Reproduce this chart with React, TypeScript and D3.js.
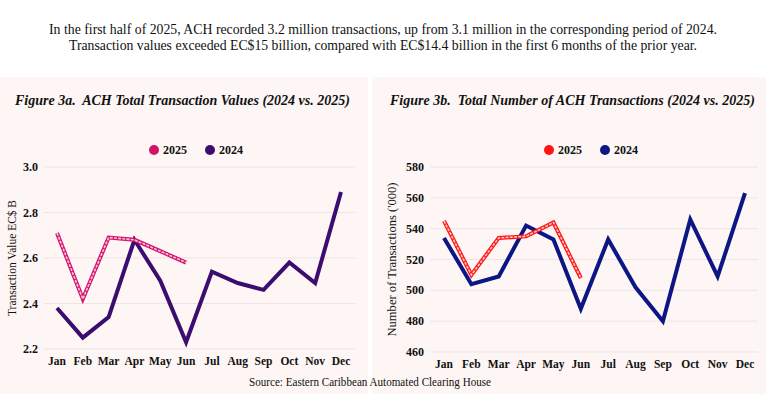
import React from "react";
import * as d3 from "d3";

const months = ["Jan", "Feb", "Mar", "Apr", "May", "Jun", "Jul", "Aug", "Sep", "Oct", "Nov", "Dec"];
const value2025 = [2.71, 2.42, 2.69, 2.68, 2.63, 2.58];
const value2024 = [2.38, 2.25, 2.34, 2.68, 2.5, 2.23, 2.54, 2.49, 2.46, 2.58, 2.49, 2.89];
const valueTicks = [2.2, 2.4, 2.6, 2.8, 3.0];
const count2025 = [545, 510, 534, 535, 544, 508];
const count2024 = [534, 504, 509, 542, 533, 488, 533, 502, 480, 546, 509, 563];
const countTicks = [460, 480, 500, 520, 540, 560, 580];

const headerLines = [
  "In the first half of 2025, ACH recorded 3.2 million transactions, up from 3.1 million in the corresponding period of 2024.",
  "Transaction values exceeded EC$15 billion, compared with EC$14.4 billion in the first 6 months of the prior year.",
];
const source = "Source: Eastern Caribbean Automated Clearing House";

const SERIF = "'Liberation Serif', 'DejaVu Serif', serif";
const BG = "#fdf6f4";
const GRID = "#ede5e3";

type PanelProps = {
  title: string;
  titleX: number;
  yTitle: string;
  yTitleX: number;
  yTitleLen: number;
  xRange: [number, number];
  yDomain: [number, number];
  yRange: [number, number];
  ticks: number[];
  tickFmt: (v: number) => string;
  tickRight: number;
  gridX: [number, number];
  s25: number[];
  s24: number[];
  c25: string;
  c25in: string;
  c24: string;
  legendX: number;
};

function Panel(p: PanelProps) {
  const x = d3.scalePoint<string>().domain(months).range(p.xRange);
  const y = d3.scaleLinear().domain(p.yDomain).range(p.yRange);
  const line = d3
    .line<number>()
    .x((_, i) => x(months[i]) as number)
    .y((d) => y(d));
  const yMid = (p.yRange[0] + p.yRange[1]) / 2;
  return (
    <g>
      <text
        x={p.titleX}
        y={105}
        fontFamily={SERIF}
        fontWeight="bold"
        fontStyle="italic"
        fontSize={14}
        fill="#111"
        style={{ whiteSpace: "pre" }}
      >
        {p.title}
      </text>
      <circle cx={p.legendX} cy={150} r={5} fill={p.c25} />
      <text x={p.legendX + 9} y={154} fontFamily={SERIF} fontWeight="bold" fontSize={12} fill="#111">
        2025
      </text>
      <circle cx={p.legendX + 56} cy={150} r={5} fill={p.c24} />
      <text x={p.legendX + 65} y={154} fontFamily={SERIF} fontWeight="bold" fontSize={12} fill="#111">
        2024
      </text>
      {p.ticks.map((t) => (
        <g key={t}>
          <line x1={p.gridX[0]} x2={p.gridX[1]} y1={y(t)} y2={y(t)} stroke={GRID} strokeWidth={1} />
          <text
            x={p.tickRight}
            y={y(t) + 4}
            textAnchor="end"
            fontFamily={SERIF}
            fontWeight="bold"
            fontSize={12}
            fill="#111"
          >
            {p.tickFmt(t)}
          </text>
        </g>
      ))}
      {months.map((m) => (
        <text
          key={m}
          x={x(m) as number}
          y={p.yRange[0] + 16}
          textAnchor="middle"
          fontFamily={SERIF}
          fontWeight="bold"
          fontSize={11.5}
          fill="#111"
        >
          {m}
        </text>
      ))}
      <text
        transform={`translate(${p.yTitleX},${yMid}) rotate(-90)`}
        textAnchor="middle"
        fontFamily={SERIF}
        fontSize={11.5}
        fill="#111"
        textLength={p.yTitleLen}
        lengthAdjust="spacingAndGlyphs"
      >
        {p.yTitle}
      </text>
      <path d={line(p.s24) || ""} fill="none" stroke={p.c24} strokeWidth={4} strokeLinejoin="miter" />
      <path d={line(p.s25) || ""} fill="none" stroke={p.c25} strokeWidth={4} strokeLinejoin="miter" />
      <path
        d={line(p.s25) || ""}
        fill="none"
        stroke={p.c25in}
        strokeWidth={1.6}
        strokeDasharray="3 1.2"
        strokeLinejoin="miter"
      />
    </g>
  );
}

export default function App() {
  return (
    <svg
      width={766}
      height={394}
      viewBox="0 0 766 394"
      style={{ position: "absolute", left: 0, top: 0, display: "block" }}
    >
      <rect x={0} y={0} width={766} height={394} fill="#ffffff" />
      <rect x={0} y={77} width={368} height={317} fill={BG} />
      <rect x={372} y={77} width={394} height={317} fill={BG} />
      {headerLines.map((t, i) => (
        <text
          key={i}
          x={383}
          y={34 + i * 16}
          textAnchor="middle"
          fontFamily={SERIF}
          fontSize={14}
          fill="#111"
          textLength={i === 0 ? 668 : 628}
          lengthAdjust="spacingAndGlyphs"
        >
          {t}
        </text>
      ))}
      <Panel
        title={"Figure 3a.  ACH Total Transaction Values (2024 vs. 2025)"}
        titleX={15}
        yTitle="Transaction Value EC$ B"
        yTitleX={16}
        yTitleLen={116}
        xRange={[57, 341]}
        yDomain={[2.2, 3.0]}
        yRange={[349, 167]}
        ticks={valueTicks}
        tickFmt={(v) => v.toFixed(1)}
        tickRight={38}
        gridX={[44, 355]}
        s25={value2025}
        s24={value2024}
        c25="#d4116b"
        c25in="#f6c6dc"
        c24="#3b0d70"
        legendX={154}
      />
      <Panel
        title={"Figure 3b.  Total Number of ACH Transactions (2024 vs. 2025)"}
        titleX={390}
        yTitle="Number of Transactions ('000)"
        yTitleX={396}
        yTitleLen={154}
        xRange={[444, 745]}
        yDomain={[460, 580]}
        yRange={[352, 167]}
        ticks={countTicks}
        tickFmt={(v) => String(v)}
        tickRight={424}
        gridX={[430, 758]}
        s25={count2025}
        s24={count2024}
        c25="#ff1414"
        c25in="#ffc4c4"
        c24="#0c1684"
        legendX={549}
      />
      <text
        x={370}
        y={386}
        textAnchor="middle"
        fontFamily={SERIF}
        fontSize={12}
        fill="#111"
        textLength={242}
        lengthAdjust="spacingAndGlyphs"
      >
        {source}
      </text>
    </svg>
  );
}
